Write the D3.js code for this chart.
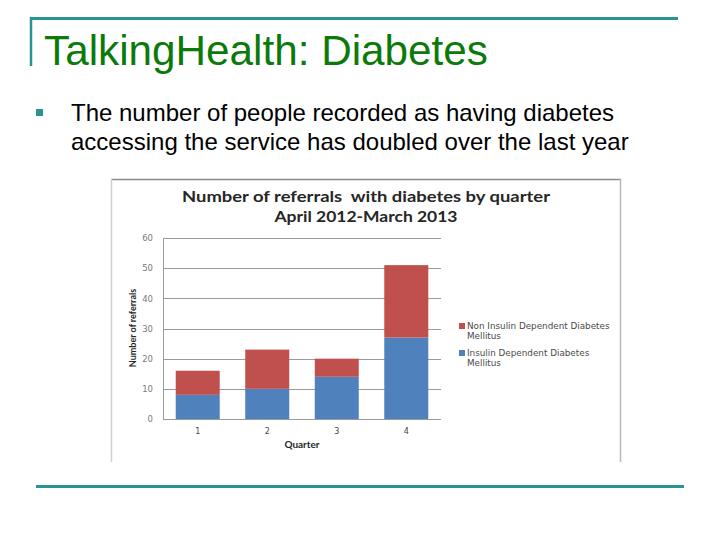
<!DOCTYPE html>
<html>
<head>
<meta charset="utf-8">
<script src="https://cdn.jsdelivr.net/npm/d3@7"></script>
<style>
  html, body { margin: 0; padding: 0; background: #fff; }
  svg { display: block; }
</style>
</head>
<body>
<svg id="slide" width="720" height="540"></svg>
<script>
// ---- data ----
const quarters = ["1", "2", "3", "4"];
const insulinDependent = [8, 10, 14, 27];
const nonInsulinDependent = [8, 13, 6, 24];
const seriesNames = ["Non Insulin Dependent Diabetes Mellitus", "Insulin Dependent Diabetes Mellitus"];
const yTicks = [0, 10, 20, 30, 40, 50, 60];
const slideTitle = "TalkingHealth: Diabetes";
const bulletLines = ["The number of people recorded as having diabetes", "accessing the service has doubled over the last year"];
const chartTitleLines = ["Number of referrals  with diabetes by quarter", "April 2012-March 2013"];

const svg = d3.select("#slide");
const teal = "#2a9393";

// slide decoration
svg.append("line").attr("x1", 30).attr("x2", 678).attr("y1", 18.5).attr("y2", 18.5)
  .attr("stroke", teal).attr("stroke-width", 3);
svg.append("line").attr("x1", 31).attr("x2", 31).attr("y1", 17).attr("y2", 66)
  .attr("stroke", teal).attr("stroke-width", 2.5);
svg.append("line").attr("x1", 36).attr("x2", 684).attr("y1", 486.5).attr("y2", 486.5)
  .attr("stroke", teal).attr("stroke-width", 3);

svg.append("text").attr("x", 44).attr("y", 65)
  .attr("font-family", "Liberation Sans, Arial, sans-serif").attr("font-size", 42)
  .attr("textLength", 444).attr("lengthAdjust", "spacingAndGlyphs")
  .attr("fill", "#0b7a0b").text(slideTitle);

// bullet
svg.append("rect").attr("x", 36).attr("y", 109).attr("width", 7).attr("height", 7).attr("fill", teal);
const bulletWidths = [543, 557];
bulletLines.forEach((t, i) => {
  svg.append("text").attr("x", 71).attr("y", 121 + i * 29)
    .attr("font-family", "Liberation Sans, Arial, sans-serif").attr("font-size", 24)
    .attr("fill", "#000").text(t);
});

// chart frame
const frame = svg.append("g");
frame.append("rect").attr("x", 111).attr("y", 179).attr("width", 510).attr("height", 290).attr("fill", "#fff");
frame.append("line").attr("x1", 111).attr("x2", 621).attr("y1", 179.5).attr("y2", 179.5).attr("stroke", "#8a8a8a").attr("stroke-width", 1.5);
frame.append("line").attr("x1", 111.5).attr("x2", 111.5).attr("y1", 179).attr("y2", 462).attr("stroke", "#d0d0d0").attr("stroke-width", 1.5);
frame.append("line").attr("x1", 620.5).attr("x2", 620.5).attr("y1", 179).attr("y2", 462).attr("stroke", "#b8b8b8").attr("stroke-width", 1.5);

// chart title
const titleWidths = [368, 183];
chartTitleLines.forEach((t, i) => {
  svg.append("text").attr("x", 366).attr("y", 202 + i * 19.5).attr("text-anchor", "middle")
    .attr("font-family", "Lato, Open Sans, sans-serif").attr("font-weight", "bold").attr("font-size", 16)
    .attr("textLength", titleWidths[i]).attr("lengthAdjust", "spacingAndGlyphs")
    .attr("fill", "#262626").style("white-space", "pre").text(t);
});

// scales
const x = d3.scaleBand().domain(quarters).range([163, 441]).paddingInner(0.367).paddingOuter(0.183);
const y = d3.scaleLinear().domain([0, 60]).range([419, 238]);

// gridlines
svg.append("g").selectAll("line").data(yTicks.filter(d => d > 0)).join("line")
  .attr("x1", 163).attr("x2", 441)
  .attr("y1", d => Math.round(y(d)) + 0.5).attr("y2", d => Math.round(y(d)) + 0.5)
  .attr("stroke", "#9a9a9a").attr("stroke-width", 1);

// stacked data
const stackData = quarters.map((q, i) => ({ q, ins: insulinDependent[i], non: nonInsulinDependent[i] }));
const stack = d3.stack().keys(["ins", "non"])(stackData);
const colors = { ins: "#4f81bd", non: "#c0504d" };
svg.append("g").selectAll("g").data(stack).join("g")
  .attr("fill", d => colors[d.key])
  .selectAll("rect").data(d => d).join("rect")
  .attr("x", d => x(d.data.q)).attr("width", x.bandwidth())
  .attr("y", d => y(d[1])).attr("height", d => y(d[0]) - y(d[1]));

// axes lines
svg.append("line").attr("x1", 163.5).attr("x2", 163.5).attr("y1", y(60)).attr("y2", y(0)).attr("stroke", "#9a9a9a");
svg.append("line").attr("x1", 163).attr("x2", 441).attr("y1", Math.round(y(0)) + 0.5).attr("y2", Math.round(y(0)) + 0.5).attr("stroke", "#9a9a9a");

// y tick labels
const yAxis = d3.axisLeft(y).tickValues(yTicks).tickSize(0).tickPadding(10);
const yg = svg.append("g").attr("transform", "translate(163,0)").call(yAxis);
yg.select(".domain").remove();
yg.selectAll("text").attr("font-family", "DejaVu Sans, sans-serif").attr("font-size", 8.5).attr("fill", "#7a7a7a");

// x tick labels
const xAxis = d3.axisBottom(x).tickSize(0).tickPadding(9);
const xg = svg.append("g").attr("transform", `translate(0,${y(0)})`).call(xAxis);
xg.select(".domain").remove();
xg.selectAll("text").attr("font-family", "DejaVu Sans, sans-serif").attr("font-size", 8).attr("fill", "#444");

// axis titles
svg.append("text").attr("x", 302).attr("y", 448).attr("text-anchor", "middle")
  .attr("font-family", "Lato, Open Sans, sans-serif").attr("font-weight", "bold").attr("font-size", 10)
  .attr("fill", "#262626").text("Quarter");
svg.append("text").attr("transform", "translate(136,328) rotate(-90)").attr("text-anchor", "middle")
  .attr("font-family", "Lato, Open Sans, sans-serif").attr("font-weight", "bold").attr("font-size", 9)
  .attr("fill", "#262626").text("Number of referrals");

// legend
const legendItems = [
  { name: seriesNames[0], color: colors.non, lines: ["Non Insulin Dependent Diabetes", "Mellitus"], y: 323 },
  { name: seriesNames[1], color: colors.ins, lines: ["Insulin Dependent Diabetes", "Mellitus"], y: 350 }
];
const lg = svg.append("g").selectAll("g").data(legendItems).join("g");
lg.append("rect").attr("x", 459).attr("y", d => d.y).attr("width", 6).attr("height", 6).attr("fill", d => d.color);
lg.each(function(d) {
  d3.select(this).selectAll("text").data(d.lines).join("text")
    .attr("x", 467).attr("y", (t, i) => d.y + 6 + i * 10)
    .attr("font-family", "DejaVu Sans, sans-serif").attr("font-size", 8.8).attr("fill", "#4a4a4a")
    .text(t => t);
});
</script>
</body>
</html>
